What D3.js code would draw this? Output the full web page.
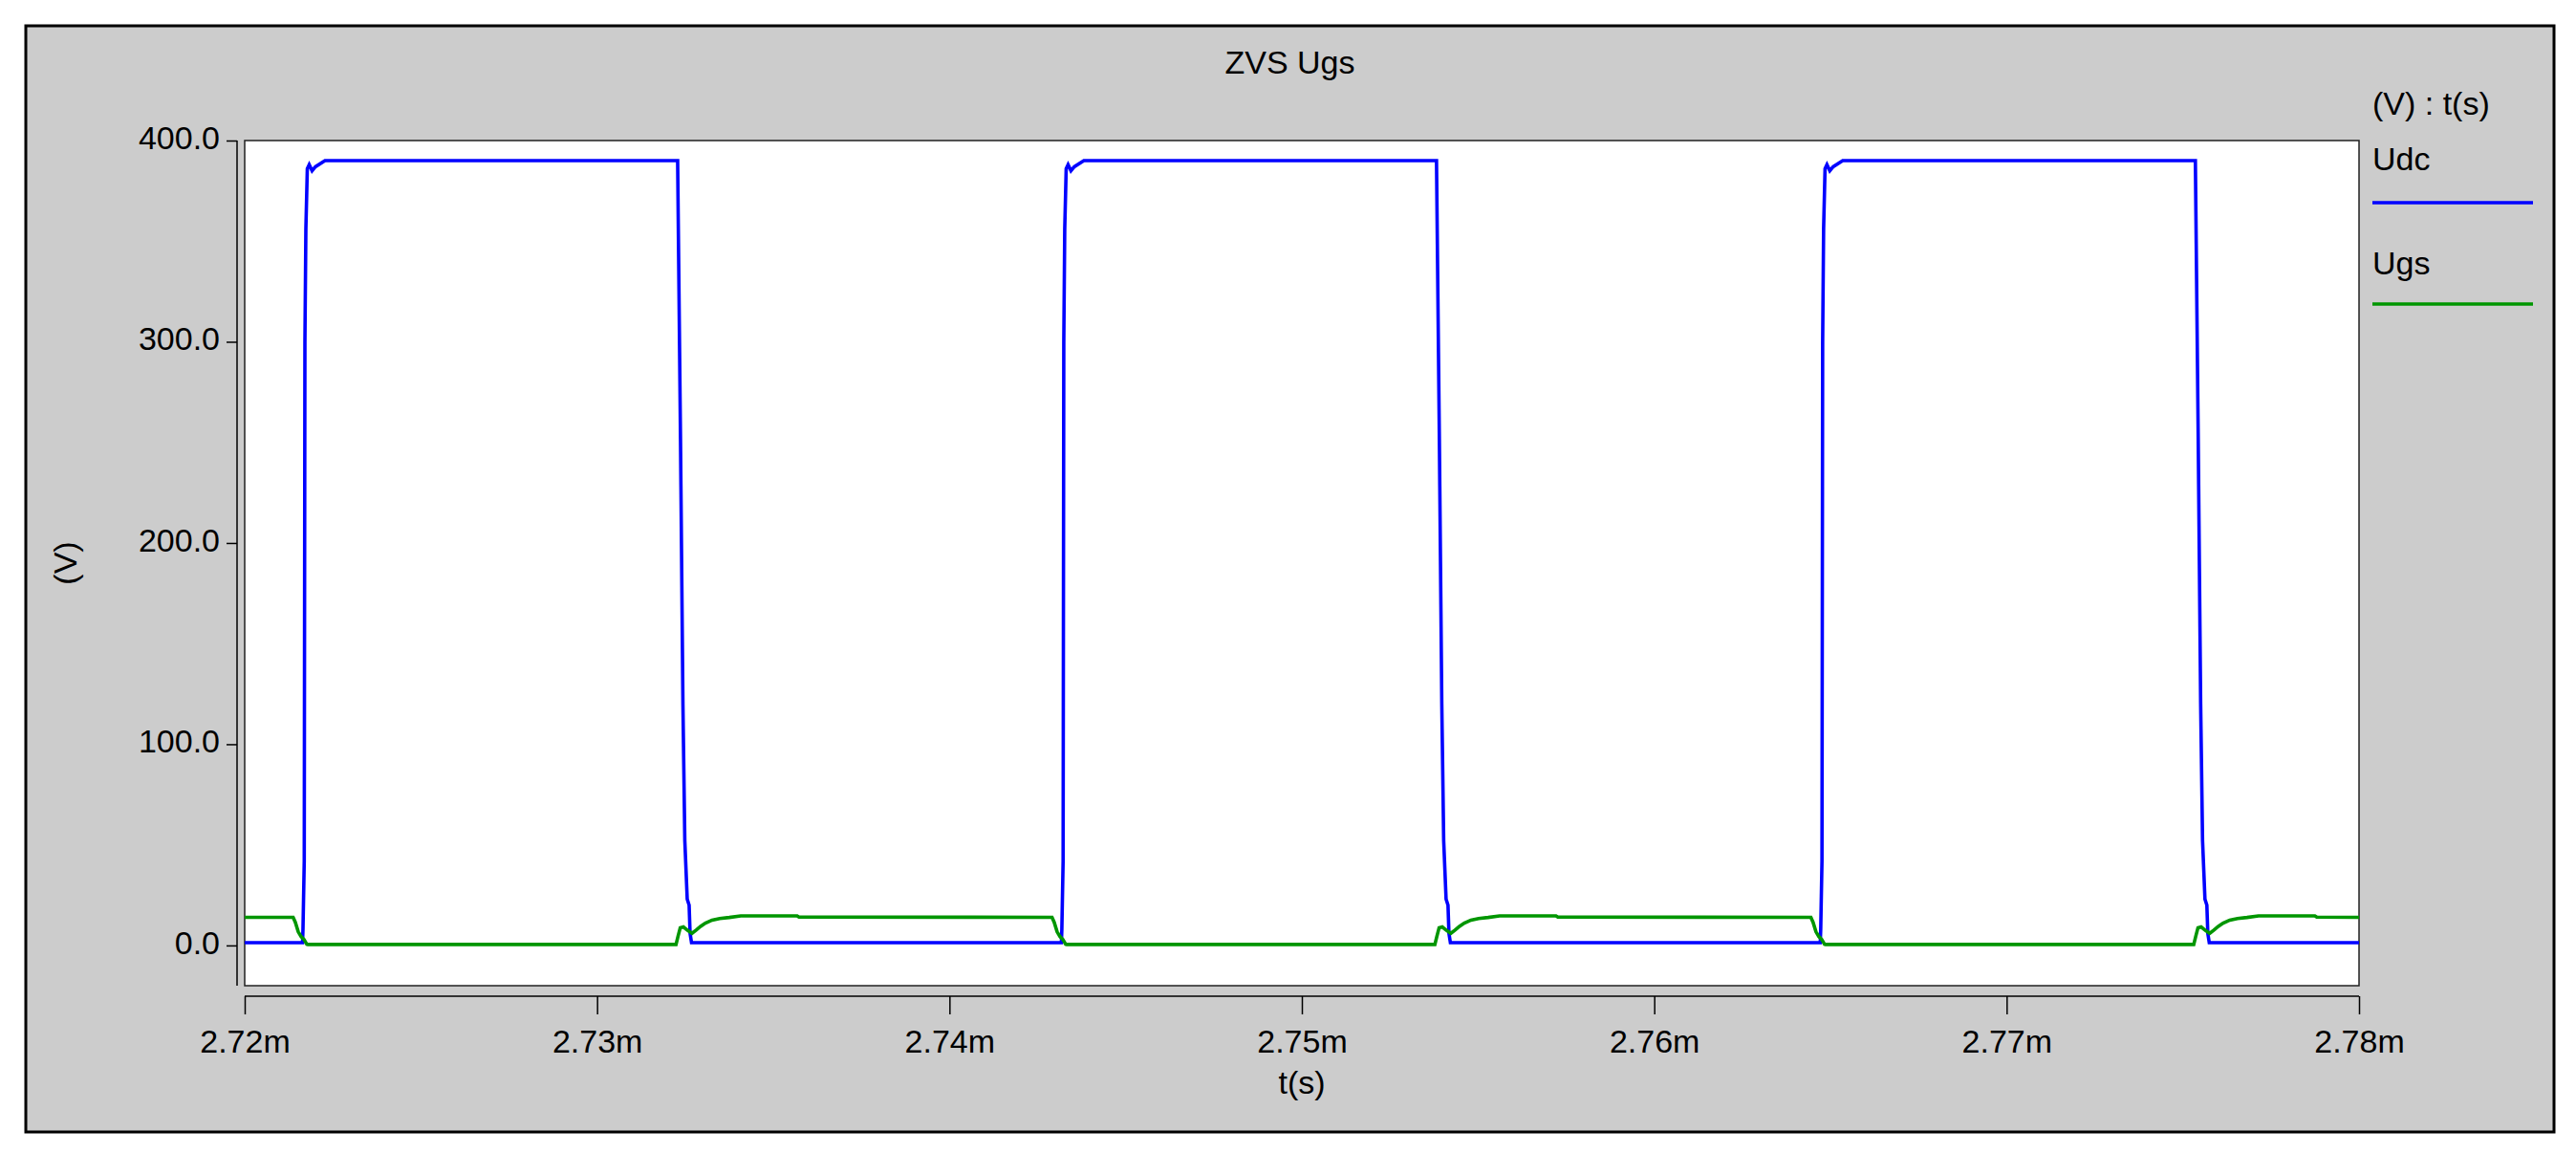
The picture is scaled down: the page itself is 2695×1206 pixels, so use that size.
<!DOCTYPE html>
<html>
<head>
<meta charset="utf-8">
<script src="https://cdn.jsdelivr.net/npm/d3@7"></script>
<style>
  html, body { margin: 0; padding: 0; background: #ffffff; }
  svg { display: block; }
  text { font-family: "Liberation Sans", Arial, sans-serif; fill: #000; }
</style>
</head>
<body>
<script>
// ---------------- data (time in ms, values in V) ----------------
const chartTitle = "ZVS Ugs";
const xTickValues = [2.72, 2.73, 2.74, 2.75, 2.76, 2.77, 2.78];
const xTickLabels = ["2.72m", "2.73m", "2.74m", "2.75m", "2.76m", "2.77m", "2.78m"];
const yTickValues = [0, 100, 200, 300, 400];
const yTickLabels = ["0.0", "100.0", "200.0", "300.0", "400.0"];
const seriesNames = ["Udc", "Ugs"];
const seriesColors = ["#0000ff", "#009600"];

const udcTime = [
  2.72, 2.721641, 2.721654, 2.721690, 2.721709, 2.721736, 2.721777, 2.721831, 2.721912, 2.722007, 2.722278,
  2.732286, 2.732368, 2.732436, 2.732490, 2.732558, 2.732612, 2.732639, 2.732680,
  2.743176, 2.743189, 2.743225, 2.743244, 2.743271, 2.743312, 2.743366, 2.743447, 2.743542, 2.743813,
  2.753821, 2.753903, 2.753971, 2.754025, 2.754093, 2.754147, 2.754174, 2.754215,
  2.764711, 2.764724, 2.764760, 2.764779, 2.764806, 2.764847, 2.764901, 2.764982, 2.765077, 2.765348,
  2.775356, 2.775438, 2.775506, 2.775560, 2.775628, 2.775682, 2.775709, 2.775750,
  2.78
];
const udcVolt = [
  1.4, 1.4, 8, 42, 300, 356, 386, 388, 385, 387, 390,
  390, 250, 120, 52, 23, 20, 6, 1.4,
  1.4, 8, 42, 300, 356, 386, 388, 385, 387, 390,
  390, 250, 120, 52, 23, 20, 6, 1.4,
  1.4, 8, 42, 300, 356, 386, 388, 385, 387, 390,
  390, 250, 120, 52, 23, 20, 6, 1.4,
  1.4
];

const ugsTime = [
  2.72, 2.721375, 2.721437, 2.721519, 2.721600, 2.721682, 2.721763, 2.721790,
  2.732240, 2.732295, 2.732360, 2.732449, 2.732585, 2.732693, 2.732810, 2.732937, 2.733073, 2.733263, 2.733480, 2.733751, 2.734077, 2.735677, 2.735731,
  2.742910, 2.742972, 2.743054, 2.743135, 2.743217, 2.743298, 2.743325,
  2.753775, 2.753830, 2.753895, 2.753984, 2.754120, 2.754228, 2.754345, 2.754472, 2.754608, 2.754798, 2.755015, 2.755286, 2.755612, 2.757212, 2.757266,
  2.764445, 2.764507, 2.764589, 2.764670, 2.764752, 2.764833, 2.764860,
  2.775310, 2.775365, 2.775430, 2.775519, 2.775655, 2.775763, 2.775880, 2.776007, 2.776143, 2.776333, 2.776550, 2.776821, 2.777147, 2.778747, 2.778801,
  2.78
];
const ugsVolt = [
  14.0, 14.0, 11.5, 6.8, 4.4, 3.0, 0.6, 0.5,
  0.5, 4.4, 8.8, 9.2, 7.3, 6.0, 7.6, 9.5, 11.1, 12.6, 13.4, 13.9, 14.7, 14.7, 14.1,
  14.0, 11.5, 6.8, 4.4, 3.0, 0.6, 0.5,
  0.5, 4.4, 8.8, 9.2, 7.3, 6.0, 7.6, 9.5, 11.1, 12.6, 13.4, 13.9, 14.7, 14.7, 14.1,
  14.0, 11.5, 6.8, 4.4, 3.0, 0.6, 0.5,
  0.5, 4.4, 8.8, 9.2, 7.3, 6.0, 7.6, 9.5, 11.1, 12.6, 13.4, 13.9, 14.7, 14.7, 14.1,
  14.0
];

// ---------------- layout ----------------
const W = 2695, H = 1206;
const frame = { x0: 27, y0: 27, x1: 2672, y1: 1184 };
const plot = { x0: 256, y0: 147, x1: 2468, y1: 1031 };
const fontSize = 34;

const svg = d3.select("body").append("svg").attr("width", W).attr("height", H);

svg.append("rect")
  .attr("x", frame.x0).attr("y", frame.y0)
  .attr("width", frame.x1 - frame.x0).attr("height", frame.y1 - frame.y0)
  .attr("fill", "#cccccc").attr("stroke", "#000").attr("stroke-width", 3);

const x = d3.scaleLinear().domain([2.72, 2.78]).range([plot.x0, plot.x1]);
const y = d3.scaleLinear().domain([-20, 400]).range([plot.y1, plot.y0]);

svg.append("rect")
  .attr("x", plot.x0).attr("y", plot.y0)
  .attr("width", plot.x1 - plot.x0).attr("height", plot.y1 - plot.y0)
  .attr("fill", "#ffffff").attr("stroke", "#202020").attr("stroke-width", 1.5);

// title
svg.append("text").attr("x", (frame.x0 + frame.x1) / 2).attr("y", 77)
  .attr("text-anchor", "middle").style("font-size", fontSize + "px").text(chartTitle);

// y axis (detached, left of plot)
const yAxis = d3.axisLeft(y).tickValues(yTickValues)
  .tickFormat((d, i) => yTickLabels[i]).tickSize(11).tickPadding(7).tickSizeOuter(0);
const gy = svg.append("g").attr("transform", `translate(248,0)`).call(yAxis);
gy.select(".domain").attr("stroke", "#000").attr("stroke-width", 1.5)
  .attr("d", `M0,${plot.y0}V${plot.y1}`);
gy.selectAll(".tick line").attr("stroke", "#000").attr("stroke-width", 1.5);
gy.selectAll(".tick text").style("font-size", fontSize + "px")
  .style("font-family", '"Liberation Sans", Arial, sans-serif').attr("fill", "#000").attr("dy", "0.25em");

// x axis (detached, below plot)
const xAxis = d3.axisBottom(x).tickValues(xTickValues)
  .tickFormat((d, i) => xTickLabels[i]).tickSize(19).tickPadding(16).tickSizeOuter(0);
const gx = svg.append("g").attr("transform", `translate(0,1042)`).call(xAxis);
gx.select(".domain").attr("stroke", "#000").attr("stroke-width", 1.5)
  .attr("d", `M${plot.x0},0H${plot.x1}`);
gx.selectAll(".tick line").attr("stroke", "#000").attr("stroke-width", 1.5);
gx.selectAll(".tick text").style("font-size", fontSize + "px")
  .style("font-family", '"Liberation Sans", Arial, sans-serif').attr("fill", "#000");

// axis titles
svg.append("text").attr("x", (plot.x0 + plot.x1) / 2).attr("y", 1144)
  .attr("text-anchor", "middle").style("font-size", fontSize + "px").text("t(s)");
svg.append("text").attr("transform", `translate(80,${(plot.y0 + plot.y1) / 2}) rotate(-90)`)
  .attr("text-anchor", "middle").style("font-size", fontSize + "px").text("(V)");

// clip
svg.append("clipPath").attr("id", "clip").append("rect")
  .attr("x", plot.x0).attr("y", plot.y0)
  .attr("width", plot.x1 - plot.x0).attr("height", plot.y1 - plot.y0);

const line = d3.line().x(d => x(d[0])).y(d => y(d[1]));
const udcData = udcTime.map((t, i) => [t, udcVolt[i]]);
const ugsData = ugsTime.map((t, i) => [t, ugsVolt[i]]);

const gLines = svg.append("g").attr("clip-path", "url(#clip)");
gLines.append("path").datum(udcData).attr("d", line)
  .attr("fill", "none").attr("stroke", seriesColors[0]).attr("stroke-width", 3.6)
  .attr("stroke-linejoin", "miter");
gLines.append("path").datum(ugsData).attr("d", line)
  .attr("fill", "none").attr("stroke", seriesColors[1]).attr("stroke-width", 3.6)
  .attr("stroke-linejoin", "miter");

// legend
const lx = 2482;
svg.append("text").attr("x", lx).attr("y", 120).style("font-size", fontSize + "px").text("(V) : t(s)");
const legendY = [{ text: 178, line: 212 }, { text: 287, line: 318 }];
seriesNames.forEach((name, i) => {
  svg.append("text").attr("x", lx).attr("y", legendY[i].text).style("font-size", fontSize + "px").text(name);
  svg.append("line").attr("x1", lx).attr("x2", 2650)
    .attr("y1", legendY[i].line).attr("y2", legendY[i].line)
    .attr("stroke", seriesColors[i]).attr("stroke-width", 3.6);
});
</script>
</body>
</html>
